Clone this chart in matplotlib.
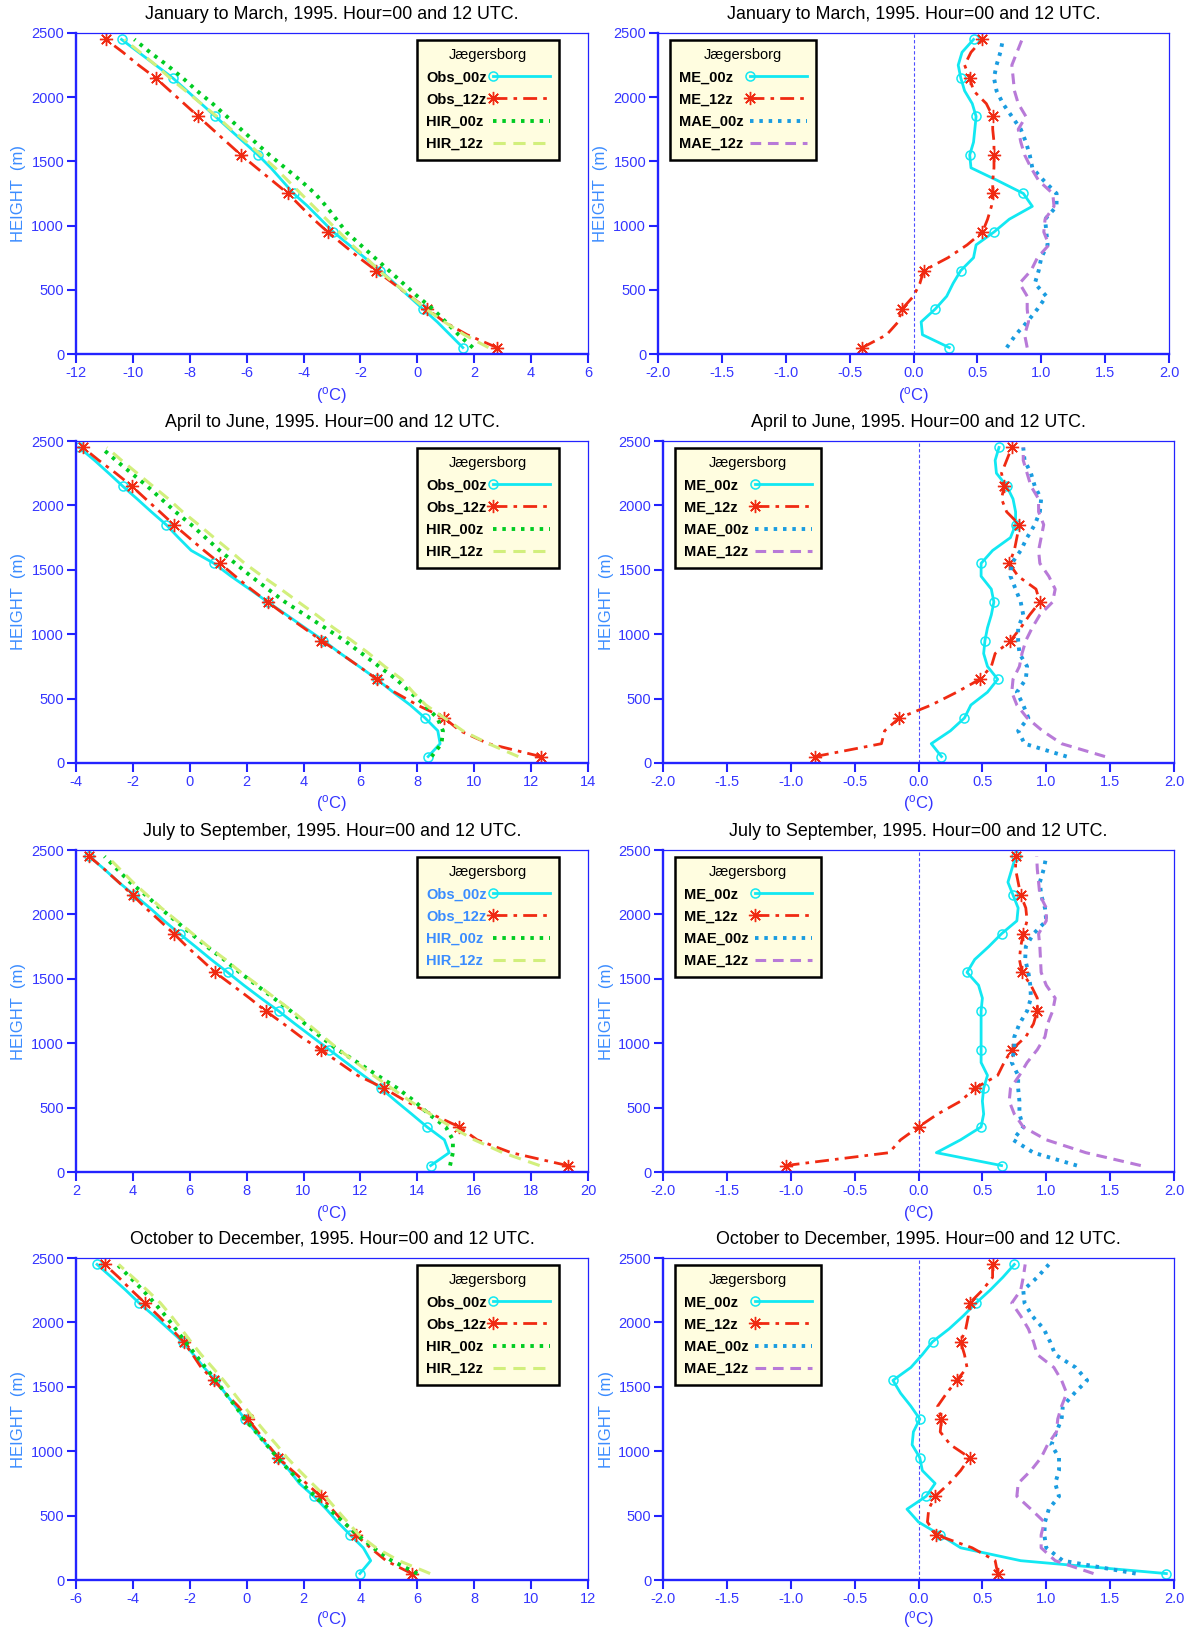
import numpy as np
import matplotlib
matplotlib.use('Agg')
import matplotlib.pyplot as plt
from matplotlib.lines import Line2D
from matplotlib.legend_handler import HandlerLine2D

plt.rcParams['font.family'] = ['Liberation Sans', 'DejaVu Sans']
plt.rcParams['mathtext.fontset'] = 'custom'
plt.rcParams['mathtext.rm'] = 'Liberation Sans'
plt.rcParams['mathtext.it'] = 'Liberation Sans'
plt.rcParams['axes.unicode_minus'] = False

# ---------------- data ----------------
heights = [50, 150, 250, 350, 450, 550, 650, 750, 850, 950, 1050, 1150, 1250,
           1350, 1450, 1550, 1650, 1750, 1850, 1950, 2050, 2150, 2250, 2350, 2450]
y_ticks = [0, 500, 1000, 1500, 2000, 2500]

titles = ["January to March, 1995. Hour=00 and 12 UTC.",
          "April to June, 1995. Hour=00 and 12 UTC.",
          "July to September, 1995. Hour=00 and 12 UTC.",
          "October to December, 1995. Hour=00 and 12 UTC."]
station = "Jægersborg"
temp_labels = ["Obs_00z", "Obs_12z", "HIR_00z", "HIR_12z"]
err_labels = ["ME_00z", "ME_12z", "MAE_00z", "MAE_12z"]

temp_xticks = [[-12, -10, -8, -6, -4, -2, 0, 2, 4, 6],
               [-4, -2, 0, 2, 4, 6, 8, 10, 12, 14],
               [2, 4, 6, 8, 10, 12, 14, 16, 18, 20],
               [-6, -4, -2, 0, 2, 4, 6, 8, 10, 12]]
err_xticks = [-2.0, -1.5, -1.0, -0.5, 0.0, 0.5, 1.0, 1.5, 2.0]

# January - March
obs00_jfm = [1.6, 1.15, 0.7, 0.2, -0.3, -0.8, -1.3, -1.85, -2.4, -2.95, -3.4, -3.85, -4.35,
             -4.75, -5.15, -5.6, -6.1, -6.6, -7.1, -7.6, -8.1, -8.6, -9.2, -9.8, -10.4]
obs12_jfm = [2.8, 1.75, 0.95, 0.35, -0.25, -0.85, -1.45, -2.05, -2.6, -3.15, -3.65, -4.1, -4.55,
             -5.1, -5.65, -6.2, -6.7, -7.2, -7.7, -8.2, -8.7, -9.2, -9.8, -10.35, -10.95]
hir00_jfm = [1.95, 1.45, 1.0, 0.55, 0.0, -0.5, -1.0, -1.5, -2.0, -2.5, -2.85, -3.2, -3.6,
             -4.1, -4.65, -5.2, -5.7, -6.2, -6.7, -7.2, -7.75, -8.25, -8.8, -9.4, -9.95]
hir12_jfm = [2.5, 1.65, 0.95, 0.3, -0.25, -0.8, -1.35, -1.8, -2.3, -2.75, -3.2, -3.65, -4.1,
             -4.55, -5.0, -5.5, -6.0, -6.55, -7.05, -7.6, -8.15, -8.7, -9.2, -9.75, -10.3]
me00_jfm = [0.28, 0.07, 0.06, 0.17, 0.26, 0.31, 0.37, 0.47, 0.49, 0.63, 0.75, 0.93, 0.86,
            0.66, 0.45, 0.44, 0.47, 0.48, 0.49, 0.46, 0.40, 0.37, 0.35, 0.38, 0.47]
me12_jfm = [-0.40, -0.21, -0.12, -0.09, 0.0, 0.05, 0.08, 0.27, 0.42, 0.54, 0.58, 0.61, 0.62,
            0.62, 0.63, 0.63, 0.63, 0.62, 0.62, 0.57, 0.47, 0.44, 0.40, 0.45, 0.54]
mae00_jfm = [0.73, 0.80, 0.89, 0.97, 1.04, 0.95, 0.98, 1.0, 1.05, 1.04, 1.03, 1.12, 1.12,
             1.02, 0.93, 0.91, 0.88, 0.84, 0.77, 0.70, 0.65, 0.63, 0.65, 0.68, 0.70]
mae12_jfm = [0.89, 0.87, 0.90, 0.89, 0.89, 0.83, 0.92, 0.97, 1.06, 1.02, 1.03, 1.10, 1.09,
             0.98, 0.92, 0.87, 0.84, 0.82, 0.88, 0.82, 0.79, 0.78, 0.77, 0.81, 0.85]

# April - June
obs00_amj = [8.38, 8.8, 8.72, 8.27, 7.75, 7.15, 6.58, 5.95, 5.3, 4.7, 4.05, 3.4, 2.74,
             2.1, 1.45, 0.85, 0.05, -0.4, -0.83, -1.35, -1.85, -2.36, -2.85, -3.35, -3.89]
obs12_amj = [12.34, 10.5, 9.5, 8.94, 8.0, 7.2, 6.58, 5.95, 5.3, 4.63, 4.0, 3.35, 2.74,
             2.15, 1.6, 1.06, 0.5, -0.03, -0.56, -1.05, -1.55, -2.04, -2.6, -3.2, -3.76]
hir00_amj = [8.5, 8.85, 8.9, 8.7, 8.25, 7.75, 7.26, 6.65, 6.05, 5.44, 4.75, 4.05, 3.35,
             2.75, 2.15, 1.6, 1.05, 0.55, 0.05, -0.5, -1.0, -1.5, -2.05, -2.6, -3.12]
hir12_amj = [11.55, 10.5, 9.6, 8.95, 8.3, 7.85, 7.45, 6.85, 6.3, 5.7, 5.05, 4.45, 3.82,
             3.2, 2.55, 1.93, 1.4, 0.85, 0.31, -0.25, -0.75, -1.3, -1.85, -2.4, -2.92]
me00_amj = [0.18, 0.1, 0.25, 0.36, 0.41, 0.54, 0.62, 0.54, 0.51, 0.52, 0.54, 0.57, 0.59,
            0.57, 0.49, 0.49, 0.58, 0.72, 0.76, 0.76, 0.74, 0.69, 0.61, 0.60, 0.63]
me12_amj = [-0.81, -0.29, -0.265, -0.15, 0.1, 0.3, 0.48, 0.57, 0.6, 0.72, 0.8, 0.87, 0.95,
            0.92, 0.78, 0.71, 0.75, 0.77, 0.79, 0.69, 0.65, 0.67, 0.65, 0.69, 0.73]
mae00_amj = [1.16, 0.83, 0.78, 0.86, 0.82, 0.77, 0.84, 0.85, 0.79, 0.78, 0.78, 0.82, 0.80,
             0.76, 0.72, 0.73, 0.80, 0.85, 0.91, 0.95, 0.96, 0.91, 0.88, 0.83, 0.82]
mae12_amj = [1.46, 1.12, 0.97, 0.85, 0.77, 0.73, 0.74, 0.79, 0.81, 0.84, 0.89, 0.95, 1.05,
             1.07, 1.02, 0.95, 0.94, 0.96, 0.98, 0.94, 0.94, 0.88, 0.85, 0.82, 0.82]

# July - September
obs00_jas = [14.47, 15.12, 14.95, 14.34, 13.8, 13.25, 12.72, 12.1, 11.5, 10.9, 10.3, 9.7, 9.12,
             8.5, 7.9, 7.33, 6.75, 6.2, 5.64, 5.1, 4.6, 4.05, 3.5, 3.0, 2.47]
obs12_jas = [19.28, 17.3, 16.1, 15.48, 14.5, 13.6, 12.83, 11.9, 11.25, 10.6, 9.9, 9.3, 8.67,
             8.1, 7.5, 6.89, 6.4, 5.9, 5.44, 4.95, 4.45, 3.99, 3.5, 3.0, 2.47]
hir00_jas = [15.15, 15.25, 15.25, 15.0, 14.4, 13.9, 13.3, 12.6, 11.9, 11.2, 10.6, 10.05, 9.55,
             8.95, 8.35, 7.75, 7.2, 6.6, 6.05, 5.5, 4.95, 4.45, 3.9, 3.45, 3.0]
hir12_jas = [18.3, 17.0, 16.0, 15.2, 14.45, 13.75, 13.1, 12.45, 11.85, 11.24, 10.7, 10.15, 9.6,
             9.0, 8.4, 7.8, 7.25, 6.65, 6.1, 5.55, 5.0, 4.5, 4.0, 3.55, 3.1]
me00_jas = [0.65, 0.14, 0.33, 0.49, 0.51, 0.50, 0.51, 0.54, 0.49, 0.49, 0.49, 0.49, 0.49,
            0.50, 0.47, 0.38, 0.44, 0.55, 0.65, 0.77, 0.78, 0.74, 0.70, 0.73, 0.76]
me12_jas = [-1.04, -0.23, -0.14, 0.0, 0.15, 0.33, 0.44, 0.62, 0.67, 0.73, 0.84, 0.9, 0.93,
            0.93, 0.88, 0.81, 0.79, 0.8, 0.82, 0.85, 0.84, 0.8, 0.78, 0.76, 0.76]
mae00_jas = [1.24, 0.9, 0.74, 0.82, 0.79, 0.79, 0.78, 0.78, 0.73, 0.75, 0.75, 0.79, 0.85,
             0.88, 0.875, 0.86, 0.835, 0.84, 0.9, 1.0, 0.99, 0.96, 0.95, 0.98, 1.0]
mae12_jas = [1.74, 1.31, 1.0, 0.82, 0.75, 0.71, 0.72, 0.79, 0.85, 0.93, 0.99, 1.01, 1.05,
             1.07, 1.0, 0.96, 0.955, 0.95, 0.94, 1.0, 1.0, 0.95, 0.94, 0.93, 0.925]

# October - December
obs00_ond = [3.98, 4.36, 4.1, 3.64, 3.2, 2.8, 2.36, 1.85, 1.5, 1.11, 0.7, 0.32, -0.07,
             -0.4, -0.75, -1.1, -1.5, -1.87, -2.25, -2.75, -3.25, -3.78, -4.25, -4.75, -5.26]
obs12_ond = [5.8, 4.9, 4.35, 3.84, 3.4, 3.0, 2.6, 2.1, 1.6, 1.11, 0.75, 0.4, 0.04,
             -0.3, -0.75, -1.15, -1.6, -1.9, -2.22, -2.65, -3.1, -3.57, -4.05, -4.5, -4.99]
hir00_ond = [6.0, 5.1, 4.45, 3.9, 3.4, 2.9, 2.4, 1.95, 1.5, 1.08, 0.7, 0.32, -0.07,
             -0.4, -0.75, -1.08, -1.45, -1.8, -2.16, -2.5, -2.85, -3.24, -3.65, -4.1, -4.55]
hir12_ond = [6.45, 5.35, 4.55, 3.95, 3.55, 3.15, 2.76, 2.3, 1.85, 1.42, 1.05, 0.65, 0.27,
             -0.1, -0.45, -0.81, -1.2, -1.6, -1.96, -2.3, -2.65, -3.03, -3.5, -4.0, -4.5]
me00_ond = [1.94, 0.8, 0.33, 0.17, 0.0, -0.09, 0.06, 0.13, 0.03, 0.01, -0.05, -0.04, 0.01,
            -0.06, -0.14, -0.2, -0.06, 0.03, 0.11, 0.24, 0.35, 0.45, 0.56, 0.66, 0.75]
me12_ond = [0.62, 0.6, 0.42, 0.14, 0.07, 0.08, 0.13, 0.24, 0.33, 0.4, 0.25, 0.17, 0.18,
            0.15, 0.22, 0.3, 0.38, 0.36, 0.33, 0.37, 0.39, 0.4, 0.5, 0.58, 0.58]
mae00_ond = [1.7, 1.13, 1.0, 0.985, 0.99, 1.02, 1.1, 1.07, 1.1, 1.1, 1.04, 1.08, 1.12,
             1.13, 1.22, 1.32, 1.23, 1.07, 1.03, 0.98, 0.89, 0.83, 0.82, 0.93, 1.02]
mae12_ond = [1.37, 1.07, 0.96, 0.96, 0.985, 0.88, 0.77, 0.78, 0.88, 0.96, 1.01, 1.08, 1.09,
             1.12, 1.16, 1.12, 1.06, 0.93, 0.9, 0.86, 0.8, 0.73, 0.8, 0.82, 0.835]

temp_series = [[obs00_jfm, obs12_jfm, hir00_jfm, hir12_jfm],
               [obs00_amj, obs12_amj, hir00_amj, hir12_amj],
               [obs00_jas, obs12_jas, hir00_jas, hir12_jas],
               [obs00_ond, obs12_ond, hir00_ond, hir12_ond]]
err_series = [[me00_jfm, me12_jfm, mae00_jfm, mae12_jfm],
              [me00_amj, me12_amj, mae00_amj, mae12_amj],
              [me00_jas, me12_jas, mae00_jas, mae12_jas],
              [me00_ond, me12_ond, mae00_ond, mae12_ond]]

# ---------------- styles ----------------
AXC = '#2323ff'
TICKC = '#3535ff'
YLABC = '#3b8cff'
CYAN = '#12e8f2'
RED = '#f02a12'
GREEN = '#00cc22'
LGREEN = '#d2ef7c'
BLUE_DOT = '#1a9ce0'
PURPLE = '#b87ad8'

temp_styles = [
    dict(color=CYAN, lw=2.0, ls='-', marker='o', ms=6.5, mfc='none', mew=1.1, markevery=3),
    dict(color=RED, lw=2.0, ls=(0, (5, 2.2, 1.3, 2.2)), marker=(8, 2, 0), ms=9.5, mew=1.0, markevery=3),
    dict(color=GREEN, lw=2.8, ls=(0, (0.9, 1.5))),
    dict(color=LGREEN, lw=2.2, ls=(0, (4, 2.5))),
]
err_styles = [
    dict(color=CYAN, lw=2.0, ls='-', marker='o', ms=6.5, mfc='none', mew=1.1, markevery=3),
    dict(color=RED, lw=2.0, ls=(0, (5, 2.2, 1.3, 2.2)), marker=(8, 2, 0), ms=9.5, mew=1.0, markevery=3),
    dict(color=BLUE_DOT, lw=2.8, ls=(0, (0.9, 1.5))),
    dict(color=PURPLE, lw=2.2, ls=(0, (3.5, 2.2))),
]


class LeftMarkerHandler(HandlerLine2D):
    def create_artists(self, legend, orig_handle, xdescent, ydescent,
                       width, height, fontsize, trans):
        xdata = np.array([-xdescent, -xdescent + width])
        ydata = np.full_like(xdata, (height - ydescent) / 2)
        legline = Line2D(xdata, ydata)
        self.update_prop(legline, orig_handle, legend)
        legline.set_markevery([0])
        legline.set_transform(trans)
        return [legline]


W, H = 1192, 1629
DPI = 100
fig = plt.figure(figsize=(W / DPI, H / DPI), dpi=DPI)
rows = [(33, 354), (441, 763), (850, 1172), (1258, 1580)]
xlab_off = [42, 41, 41, 39]
left_x = (76, 588)
right_x = [(658, 1169), (663, 1174), (663, 1174), (663, 1174)]


def add_ax(x0, x1, y0, y1):
    return fig.add_axes([x0 / W, 1 - y1 / H, (x1 - x0) / W, (y1 - y0) / H])


def style_ax(ax, xticks, fmt, title, hpx, wpx, xoff):
    ax.set_xlim(xticks[0], xticks[-1])
    ax.set_ylim(0, 2500)
    ax.set_xticks(xticks)
    ax.set_xticklabels([fmt.format(t) for t in xticks])
    ax.set_yticks(y_ticks)
    for s in ['left', 'bottom']:
        ax.spines[s].set_linewidth(1.7)
        ax.spines[s].set_color(AXC)
    for s in ['top', 'right']:
        ax.spines[s].set_linewidth(0.9)
        ax.spines[s].set_color(AXC)
    ax.tick_params(direction='out', length=6.5, width=1.5, color=AXC,
                   labelcolor=TICKC, labelsize=10.5, top=False, right=False, pad=2)
    ax.text(0.5, 1 + 18.5 / hpx, title, transform=ax.transAxes, ha='center',
            va='center', fontsize=12.9, color='black')
    ax.text(-57 / wpx, 0.5, 'HEIGHT  (m)', transform=ax.transAxes, rotation=90,
            ha='center', va='center', fontsize=12, color=YLABC)
    ax.text(0.5, -xoff / hpx, r'($^{\rm o}$C)', transform=ax.transAxes, ha='center',
            va='center', fontsize=12, color=TICKC)


legends = []


def add_legend(ax, handles, labels, loc, anchor, label_color='black'):
    hm = {h: LeftMarkerHandler() for h in handles}
    leg = ax.legend(handles, labels, loc=loc, bbox_to_anchor=anchor, borderaxespad=0,
                    title=station, title_fontsize=10.5, markerfirst=False,
                    handlelength=3.9, handletextpad=0.45, labelspacing=0.56,
                    borderpad=0.6, fancybox=False, framealpha=1,
                    prop=dict(size=10.5, weight='bold'), handler_map=hm)
    fr = leg.get_frame()
    fr.set_facecolor('#fffde0')
    fr.set_edgecolor('black')
    fr.set_linewidth(1.8)
    for t in leg.get_texts():
        t.set_color(label_color)
    legends.append(leg)
    return leg


for i in range(4):
    y0, y1 = rows[i]
    hpx = y1 - y0
    # temperature profile panel
    ax = add_ax(left_x[0], left_x[1], y0, y1)
    hs = []
    for data, st in zip(temp_series[i], temp_styles):
        ln, = ax.plot(data, heights, **st)
        hs.append(ln)
    style_ax(ax, temp_xticks[i], '{:d}', titles[i], hpx, left_x[1] - left_x[0], xlab_off[i])
    add_legend(ax, hs, temp_labels, 'upper right',
               ((559 - left_x[0]) / (left_x[1] - left_x[0]), 1 - 6.5 / hpx),
               label_color='#3a8cff' if i == 2 else 'black')

    # error panel
    rx0, rx1 = right_x[i]
    ax2 = add_ax(rx0, rx1, y0, y1)
    ax2.axvline(0, color='#4d4dff', lw=0.8, ls=(0, (3, 2)), zorder=1)
    hs = []
    for data, st in zip(err_series[i], err_styles):
        ln, = ax2.plot(data, heights, **st)
        hs.append(ln)
    style_ax(ax2, err_xticks, '{:.1f}', titles[i], hpx, rx1 - rx0, xlab_off[i])
    add_legend(ax2, hs, err_labels, 'upper left', (12 / (rx1 - rx0), 1 - 6.5 / hpx))

# left-align legend labels while keeping the line samples in one column
fig.canvas.draw()
renderer = fig.canvas.get_renderer()
for leg in legends:
    for col in leg._legend_handle_box.get_children():
        items = col.get_children()
        widths = [it.get_children()[0]._text.get_window_extent(renderer).width for it in items]
        maxw = max(widths)
        for it, w in zip(items, widths):
            it.sep = it.sep + (maxw - w) * 72.0 / DPI
        col.align = 'left'

fig.savefig('out.png', dpi=DPI)
